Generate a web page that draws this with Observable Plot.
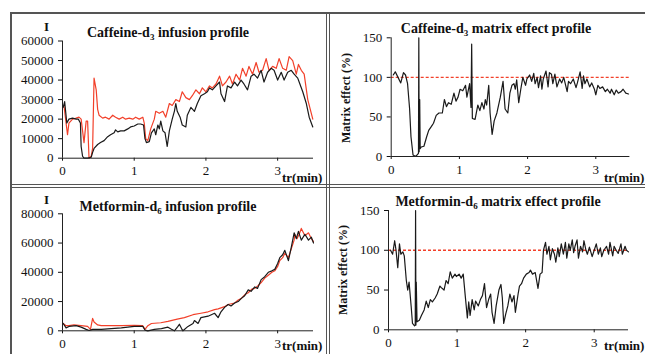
<!DOCTYPE html>
<html>
<head>
<meta charset="utf-8">
<script src="https://cdn.jsdelivr.net/npm/d3@7"></script>
<script src="https://cdn.jsdelivr.net/npm/@observablehq/plot@0.6"></script>
<style>
  html, body { margin: 0; padding: 0; background: #fff; }
  #root { position: relative; width: 645px; height: 354px; overflow: hidden; background: #fff;
          font-family: "Times New Roman", "Liberation Serif", Tinos, "DejaVu Serif", serif; color: #111; }
  .pane { position: absolute; }
  .line { position: absolute; background: #555; }
  .txt { position: absolute; white-space: nowrap; font-weight: bold; color: #111;
         font-family: "Times New Roman", "Liberation Serif", Tinos, "DejaVu Serif", serif; }
  .title { font-size: 14px; transform: translate(-50%, -50%); }
  .title sub { font-size: 9px; vertical-align: -3px; line-height: 0; }
  .ylab { font-size: 12px; transform: translate(-50%, -50%) rotate(-90deg); }
  .unit { font-size: 13px; }
  svg text { font-family: "Times New Roman", "Liberation Serif", Tinos, "DejaVu Serif", serif; }
</style>
</head>
<body>
<div id="root"></div>
<script>
// ---- data: time (min) and intensity / matrix effect (%) ----
const xTicks = [0, 1, 2, 3];
const caffInfTicks = [0, 10000, 20000, 30000, 40000, 50000, 60000];
const metInfTicks = [0, 20000, 40000, 60000, 80000];
const meTicks = [0, 50, 100, 150];
const refLevel = [100];

const caffRed = [[0.02,27000],[0.07,12000],[0.09,18000],[0.14,20000],[0.19,20500],[0.23,21000],[0.26,20000],[0.30,8000],[0.33,19000],[0.35,19000],[0.37,0],[0.40,1000],[0.42,5000],[0.44,41000],[0.47,35000],[0.49,25000],[0.51,22000],[0.56,20500],[0.60,21000],[0.65,20000],[0.70,22000],[0.74,21000],[0.79,20000],[0.84,21000],[0.88,20000],[0.93,20500],[0.98,20000],[1.02,21000],[1.07,20000],[1.12,21000],[1.14,18000],[1.16,10000],[1.19,9000],[1.23,15000],[1.28,20000],[1.30,24000],[1.35,23000],[1.40,24000],[1.44,21000],[1.49,28000],[1.53,27000],[1.58,30000],[1.63,29000],[1.67,34000],[1.72,31000],[1.77,30000],[1.81,32000],[1.86,35000],[1.91,33000],[1.95,36000],[2.00,34000],[2.05,37000],[2.09,36000],[2.14,38000],[2.19,42000],[2.23,37000],[2.28,39000],[2.33,42000],[2.37,38000],[2.42,43000],[2.47,40000],[2.51,46000],[2.56,42000],[2.60,47000],[2.65,43000],[2.70,49000],[2.74,44000],[2.79,45000],[2.84,51000],[2.88,45000],[2.93,47000],[2.98,46000],[3.02,51000],[3.07,46000],[3.12,45000],[3.16,52000],[3.21,50000],[3.26,43000],[3.29,48000],[3.33,45000],[3.37,43000],[3.42,30000],[3.49,20000]];

const caffBlack = [[0.01,26000],[0.03,29000],[0.06,18000],[0.09,20000],[0.14,20500],[0.19,20000],[0.22,20000],[0.25,18000],[0.26,6000],[0.28,1000],[0.30,0],[0.35,0],[0.40,500],[0.42,3000],[0.44,5000],[0.49,7000],[0.53,8000],[0.58,9000],[0.63,11000],[0.67,12000],[0.72,13000],[0.74,14500],[0.77,13500],[0.81,14000],[0.86,14000],[0.91,15000],[0.95,16000],[1.00,16500],[1.05,17500],[1.09,17500],[1.13,17000],[1.15,10000],[1.17,8000],[1.21,8500],[1.24,13000],[1.28,15000],[1.30,12000],[1.33,17000],[1.35,15000],[1.37,19000],[1.40,14000],[1.43,13000],[1.46,6000],[1.49,14000],[1.53,20000],[1.56,24000],[1.58,28000],[1.60,24000],[1.64,21000],[1.67,17000],[1.72,16000],[1.74,22000],[1.79,26000],[1.84,24000],[1.88,28000],[1.93,32000],[1.98,33000],[2.02,34000],[2.05,36000],[2.09,35000],[2.14,37000],[2.19,39000],[2.21,33000],[2.26,29000],[2.30,37000],[2.35,36000],[2.40,39000],[2.44,37000],[2.49,40000],[2.53,38000],[2.58,35000],[2.63,42000],[2.67,43000],[2.72,41000],[2.77,45000],[2.81,39000],[2.86,44000],[2.91,46000],[2.95,45000],[3.00,40000],[3.05,44000],[3.09,40000],[3.14,44000],[3.19,45000],[3.23,43000],[3.28,41000],[3.30,39000],[3.35,34000],[3.40,28000],[3.44,21000],[3.49,16000]];

const caffME = [[0.03,103],[0.06,107],[0.10,100],[0.14,93],[0.18,106],[0.21,103],[0.24,92],[0.27,60],[0.29,25],[0.32,2],[0.36,0],[0.38,2],[0.40,4],[0.405,150],[0.41,6],[0.418,72],[0.425,10],[0.44,12],[0.48,13],[0.52,25],[0.55,33],[0.59,38],[0.62,42],[0.66,52],[0.70,55],[0.75,55],[0.78,72],[0.81,63],[0.84,68],[0.88,66],[0.92,80],[0.95,70],[0.98,75],[1.01,85],[1.05,83],[1.09,90],[1.11,75],[1.15,92],[1.17,62],[1.18,142],[1.19,48],[1.23,47],[1.27,65],[1.30,58],[1.33,68],[1.36,60],[1.38,72],[1.40,65],[1.43,90],[1.45,55],[1.48,28],[1.51,45],[1.55,55],[1.60,75],[1.64,95],[1.67,60],[1.71,55],[1.74,80],[1.77,90],[1.80,92],[1.82,85],[1.84,97],[1.87,68],[1.90,85],[1.93,100],[1.97,90],[1.99,98],[2.03,103],[2.06,95],[2.09,105],[2.11,92],[2.14,100],[2.16,87],[2.19,102],[2.21,85],[2.23,98],[2.27,108],[2.30,88],[2.32,106],[2.35,104],[2.37,92],[2.40,104],[2.43,88],[2.47,98],[2.50,93],[2.53,100],[2.58,82],[2.60,95],[2.63,92],[2.67,98],[2.71,87],[2.73,93],[2.77,107],[2.80,86],[2.82,102],[2.84,92],[2.87,98],[2.91,88],[2.94,93],[2.98,85],[3.00,78],[3.03,90],[3.06,86],[3.10,88],[3.14,82],[3.17,85],[3.21,80],[3.23,85],[3.27,78],[3.30,84],[3.33,80],[3.37,82],[3.40,85],[3.44,80],[3.48,79]];

const metRed = [[0.01,5000],[0.05,3500],[0.09,3500],[0.16,4000],[0.26,3500],[0.35,3000],[0.39,1000],[0.42,8500],[0.44,6000],[0.49,4000],[0.54,3500],[0.68,3500],[0.82,3500],[1.00,3800],[1.12,3500],[1.15,1000],[1.19,3500],[1.24,5000],[1.37,5500],[1.47,6500],[1.60,8000],[1.70,9000],[1.82,11000],[1.93,12000],[2.03,13000],[2.12,14500],[2.17,15000],[2.26,16500],[2.31,18000],[2.40,19000],[2.45,21000],[2.49,22000],[2.55,25000],[2.59,26000],[2.64,28500],[2.68,29000],[2.73,31000],[2.77,33000],[2.82,36000],[2.87,38000],[2.92,40000],[2.96,41000],[3.00,44000],[3.03,48000],[3.07,50000],[3.10,53000],[3.15,50000],[3.19,56000],[3.23,62000],[3.24,66000],[3.27,63000],[3.30,66000],[3.33,70000],[3.38,65000],[3.43,67000],[3.47,63000],[3.50,61000]];

const metBlack = [[0.01,5000],[0.05,2000],[0.09,3000],[0.19,3500],[0.26,2500],[0.33,1000],[0.37,200],[0.42,1000],[0.54,1000],[0.68,1500],[0.82,2000],[0.91,2500],[1.00,3000],[1.12,3000],[1.15,500],[1.19,0],[1.28,1000],[1.38,1500],[1.47,2500],[1.52,1000],[1.56,0],[1.61,3000],[1.63,4500],[1.66,1500],[1.68,0],[1.75,3000],[1.82,5000],[1.84,7000],[1.89,5000],[1.93,9000],[2.03,10000],[2.12,12000],[2.17,9000],[2.21,13000],[2.26,16000],[2.31,18000],[2.35,17000],[2.40,19000],[2.45,20000],[2.49,22000],[2.54,24000],[2.59,28000],[2.63,27000],[2.68,30000],[2.72,29000],[2.77,35000],[2.82,37000],[2.87,40000],[2.92,41000],[2.96,42000],[3.00,46000],[3.03,50000],[3.07,52000],[3.10,55000],[3.15,48000],[3.19,57000],[3.23,67000],[3.26,63000],[3.29,68000],[3.33,62000],[3.38,66000],[3.43,62000],[3.47,64000],[3.50,60000]];

const metME = [[0.03,100],[0.06,95],[0.09,112],[0.11,100],[0.135,78],[0.16,108],[0.18,95],[0.21,98],[0.23,93],[0.26,62],[0.28,50],[0.30,60],[0.33,30],[0.35,8],[0.38,5],[0.39,6],[0.395,150],[0.40,6],[0.405,60],[0.416,10],[0.45,12],[0.48,18],[0.52,25],[0.55,36],[0.58,28],[0.61,38],[0.64,35],[0.68,40],[0.71,45],[0.75,55],[0.77,53],[0.81,50],[0.84,62],[0.87,58],[0.90,73],[0.93,65],[0.97,70],[0.99,67],[1.03,70],[1.06,65],[1.09,70],[1.12,42],[1.15,15],[1.17,35],[1.19,18],[1.22,38],[1.25,25],[1.27,36],[1.31,30],[1.34,38],[1.37,43],[1.40,58],[1.43,28],[1.46,38],[1.49,45],[1.51,22],[1.54,8],[1.57,30],[1.61,50],[1.64,57],[1.66,40],[1.68,8],[1.71,20],[1.74,30],[1.77,45],[1.80,35],[1.83,43],[1.85,22],[1.89,45],[1.91,55],[1.94,58],[1.97,65],[2.01,70],[2.05,72],[2.07,75],[2.10,70],[2.14,72],[2.18,52],[2.21,70],[2.24,72],[2.26,100],[2.29,110],[2.31,95],[2.34,105],[2.36,88],[2.39,102],[2.42,95],[2.44,85],[2.47,103],[2.49,92],[2.52,108],[2.55,95],[2.58,110],[2.60,90],[2.63,108],[2.65,100],[2.68,113],[2.70,97],[2.72,105],[2.75,113],[2.77,90],[2.80,105],[2.83,98],[2.85,112],[2.88,100],[2.90,95],[2.93,104],[2.97,92],[3.00,100],[3.03,108],[3.06,95],[3.09,103],[3.11,92],[3.14,100],[3.18,105],[3.21,95],[3.23,110],[3.27,93],[3.29,105],[3.32,100],[3.35,96],[3.39,108],[3.41,95],[3.45,105],[3.47,100],[3.50,98]];

// ---- layout ----
const RED = "#f2402a", BLACK = "#1a1a1a";
const SERIF = "'Times New Roman', 'Liberation Serif', Tinos, 'DejaVu Serif', serif";
const root = document.getElementById("root");

function addDiv(cls, style, html) {
  const d = document.createElement("div");
  d.className = cls;
  Object.assign(d.style, style);
  if (html != null) d.innerHTML = html;
  root.appendChild(d);
  return d;
}

function panel(o) {
  const marks = [
    Plot.axisX({ticks: xTicks, tickSize: 3, tickPadding: 5, tickFormat: d => String(d), label: null}),
    Plot.axisY({ticks: o.yTicks, tickSize: 4, tickPadding: 5, tickFormat: d => String(d), label: null}),
  ];
  if (o.ref) marks.push(Plot.ruleY(refLevel, {stroke: RED, strokeWidth: 1.3, strokeDasharray: "3,2"}));
  for (const s of o.series) {
    marks.push(Plot.line(s.data, {x: d => d[0], y: d => d[1], stroke: s.color, strokeWidth: 1.2, curve: "linear"}));
  }
  marks.push(Plot.ruleY([o.yDomain[0]], {stroke: "#222", strokeWidth: 1}));
  marks.push(Plot.ruleX([0], {stroke: "#222", strokeWidth: 1}));
  const svg = Plot.plot({
    width: o.width, height: o.height,
    marginLeft: o.mL, marginRight: o.mR, marginTop: o.mT, marginBottom: o.mB,
    x: {domain: [0, 3.5]},
    y: {domain: o.yDomain},
    style: {fontFamily: SERIF, fontSize: "13px", color: "#111", background: "transparent", overflow: "visible"},
    marks
  });
  const wrap = addDiv("pane", {left: o.left + "px", top: o.top + "px"});
  wrap.appendChild(svg);
}

// frame lines
addDiv("line", {left: "10px", top: "12px", width: "640px", height: "2px"});
addDiv("line", {left: "10px", top: "12px", width: "2px", height: "350px"});
addDiv("line", {left: "10px", top: "184px", width: "640px", height: "1px"});
addDiv("line", {left: "10px", top: "187px", width: "640px", height: "1px"});
addDiv("line", {left: "326px", top: "12px", width: "1px", height: "350px"});
addDiv("line", {left: "329px", top: "12px", width: "1px", height: "350px"});

panel({left: 0, top: 0, width: 330, height: 185, mL: 62, mR: 17, mT: 40.5, mB: 27.3,
       yDomain: [0, 60000], yTicks: caffInfTicks,
       series: [{data: caffRed, color: RED}, {data: caffBlack, color: BLACK}]});
panel({left: 320, top: 0, width: 325, height: 185, mL: 70.7, mR: 15.6, mT: 37.3, mB: 29,
       yDomain: [0, 150], yTicks: meTicks, ref: true,
       series: [{data: caffME, color: BLACK}]});
panel({left: 0, top: 186, width: 330, height: 168, mL: 62, mR: 17, mT: 27.3, mB: 23.7,
       yDomain: [0, 80000], yTicks: metInfTicks,
       series: [{data: metRed, color: RED}, {data: metBlack, color: BLACK}]});
panel({left: 320, top: 186, width: 325, height: 168, mL: 68, mR: 17, mT: 24, mB: 24.7,
       yDomain: [0, 150], yTicks: meTicks, ref: true,
       series: [{data: metME, color: BLACK}]});

// texts
addDiv("txt title", {left: "168px", top: "33px"}, "Caffeine-d<sub>3</sub> infusion profile");
addDiv("txt title", {left: "496px", top: "29px"}, "Caffeine-d<sub>3</sub> matrix effect profile");
addDiv("txt title", {left: "168px", top: "207px"}, "Metformin-d<sub>6</sub> infusion profile");
addDiv("txt title", {left: "498px", top: "202px"}, "Metformin-d<sub>6</sub> matrix effect profile");
addDiv("txt unit", {left: "44px", top: "19px"}, "I");
addDiv("txt unit", {left: "44px", top: "192px"}, "I");
addDiv("txt ylab", {left: "346px", top: "98px"}, "Matrix effect (%)");
addDiv("txt ylab", {left: "343px", top: "270px"}, "Matrix effect (%)");
addDiv("txt unit", {left: "282px", top: "170px"}, "tr(min)");
addDiv("txt unit", {left: "604px", top: "170px"}, "tr(min)");
addDiv("txt unit", {left: "282px", top: "338px"}, "tr(min)");
addDiv("txt unit", {left: "604px", top: "338px"}, "tr(min)");
</script>
</body>
</html>
